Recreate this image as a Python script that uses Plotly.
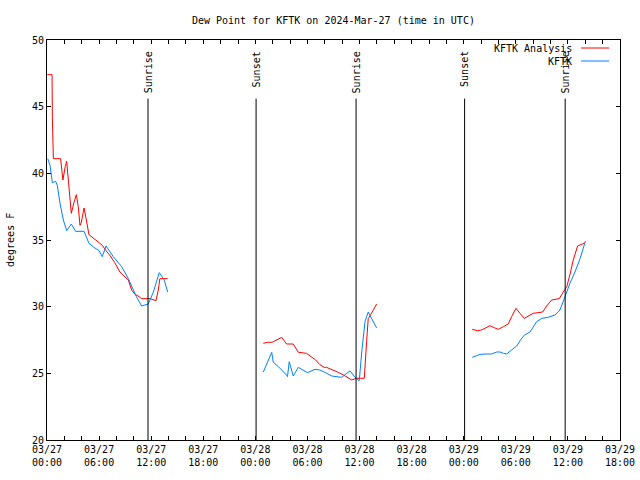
import plotly.graph_objects as go

# ---------------- data ----------------
analysis_times = [
    "2024-03-27 00:02", "2024-03-27 00:35", "2024-03-27 00:37", "2024-03-27 00:44", "2024-03-27 01:34",
    "2024-03-27 01:50", "2024-03-27 02:06", "2024-03-27 02:16", "2024-03-27 02:25", "2024-03-27 02:39",
    "2024-03-27 02:48", "2024-03-27 03:06", "2024-03-27 03:23", "2024-03-27 03:36", "2024-03-27 03:48",
    "2024-03-27 03:57", "2024-03-27 04:16", "2024-03-27 04:27", "2024-03-27 04:39", "2024-03-27 04:50",
    "2024-03-27 06:00", "2024-03-27 06:22", "2024-03-27 06:48", "2024-03-27 07:18", "2024-03-27 07:48",
    "2024-03-27 08:24", "2024-03-27 08:52", "2024-03-27 09:22", "2024-03-27 09:45", "2024-03-27 10:06",
    "2024-03-27 10:36", "2024-03-27 10:54", "2024-03-27 11:52", "2024-03-27 12:33", "2024-03-27 12:49",
    "2024-03-27 13:00", "2024-03-27 13:54",
    None,
    "2024-03-28 00:55", "2024-03-28 01:22", "2024-03-28 01:57", "2024-03-28 02:27", "2024-03-28 03:02",
    "2024-03-28 03:36", "2024-03-28 04:22", "2024-03-28 04:57", "2024-03-28 05:54", "2024-03-28 06:18",
    "2024-03-28 06:52", "2024-03-28 07:26", "2024-03-28 07:56", "2024-03-28 08:12", "2024-03-28 08:58",
    "2024-03-28 09:33", "2024-03-28 10:08", "2024-03-28 10:42", "2024-03-28 11:06", "2024-03-28 11:40",
    "2024-03-28 12:33", "2024-03-28 12:49", "2024-03-28 13:00", "2024-03-28 13:17", "2024-03-28 13:58",
    None,
    "2024-03-29 00:59", "2024-03-29 01:34", "2024-03-29 02:04", "2024-03-29 02:31", "2024-03-29 03:01",
    "2024-03-29 03:31", "2024-03-29 03:59", "2024-03-29 04:34", "2024-03-29 05:08", "2024-03-29 05:31",
    "2024-03-29 06:01", "2024-03-29 06:29", "2024-03-29 06:59", "2024-03-29 07:38", "2024-03-29 08:00",
    "2024-03-29 09:06", "2024-03-29 09:33", "2024-03-29 10:08", "2024-03-29 11:00", "2024-03-29 11:28",
    "2024-03-29 11:52", "2024-03-29 12:14", "2024-03-29 12:37", "2024-03-29 13:07", "2024-03-29 13:35",
    "2024-03-29 13:51", "2024-03-29 14:05",
]
analysis_values = [
    47.4, 47.4, 44.2, 41.1, 41.1,
    39.5, 40.5, 40.9, 39.8, 38.1,
    37.0, 37.8, 38.4, 37.5, 36.1,
    36.3, 37.4, 36.8, 35.9, 35.4,
    34.8, 34.6, 34.2, 33.8, 33.3,
    32.6, 32.3, 32.0, 31.25, 30.95,
    30.75, 30.6, 30.6, 30.45, 31.25,
    32.1, 32.1,
    None,
    27.25, 27.33, 27.33, 27.5, 27.7,
    27.2, 27.2, 26.58, 26.5, 26.3,
    26.05, 25.65, 25.45, 25.45, 25.25,
    25.07, 24.88, 24.63, 24.5, 24.63,
    24.63, 27.4, 29.1, 29.4, 30.2,
    None,
    28.3, 28.2, 28.25, 28.42, 28.57,
    28.42, 28.3, 28.5, 28.7, 29.25,
    29.87, 29.5, 29.12, 29.37, 29.5,
    29.6, 30.05, 30.5, 30.6, 31.1,
    31.5, 32.4, 33.5, 34.55, 34.7,
    34.75, 34.9,
]

obs_times = [
    "2024-03-27 00:05", "2024-03-27 00:21", "2024-03-27 00:37", "2024-03-27 01:00", "2024-03-27 01:11",
    "2024-03-27 01:30", "2024-03-27 01:53", "2024-03-27 02:16", "2024-03-27 02:48", "2024-03-27 03:18",
    "2024-03-27 04:16", "2024-03-27 04:50", "2024-03-27 05:24", "2024-03-27 06:00", "2024-03-27 06:22",
    "2024-03-27 06:48", "2024-03-27 07:38", "2024-03-27 08:36", "2024-03-27 09:22", "2024-03-27 09:56",
    "2024-03-27 10:18", "2024-03-27 10:54", "2024-03-27 11:40", "2024-03-27 11:52", "2024-03-27 12:15",
    "2024-03-27 12:56", "2024-03-27 13:29", "2024-03-27 13:54",
    None,
    "2024-03-28 00:55", "2024-03-28 01:24", "2024-03-28 01:53", "2024-03-28 02:04", "2024-03-28 02:39",
    "2024-03-28 03:36", "2024-03-28 03:42", "2024-03-28 03:54", "2024-03-28 04:22", "2024-03-28 04:57",
    "2024-03-28 05:31", "2024-03-28 06:00", "2024-03-28 06:52", "2024-03-28 07:26", "2024-03-28 07:56",
    "2024-03-28 08:48", "2024-03-28 09:56", "2024-03-28 10:18", "2024-03-28 10:54", "2024-03-28 11:29",
    "2024-03-28 11:58", "2024-03-28 12:15", "2024-03-28 12:38", "2024-03-28 13:00", "2024-03-28 13:30",
    "2024-03-28 13:58",
    None,
    "2024-03-29 00:59", "2024-03-29 01:30", "2024-03-29 01:52", "2024-03-29 02:27", "2024-03-29 03:12",
    "2024-03-29 03:48", "2024-03-29 04:11", "2024-03-29 04:34", "2024-03-29 04:57", "2024-03-29 05:31",
    "2024-03-29 06:06", "2024-03-29 06:36", "2024-03-29 06:59", "2024-03-29 07:38", "2024-03-29 08:24",
    "2024-03-29 08:59", "2024-03-29 09:42", "2024-03-29 10:30", "2024-03-29 11:05", "2024-03-29 11:40",
    "2024-03-29 12:14", "2024-03-29 12:49", "2024-03-29 13:24", "2024-03-29 13:58",
]
obs_values = [
    41.1, 40.6, 39.3, 39.4, 39.1,
    37.75, 36.5, 35.7, 36.2, 35.65,
    35.65, 34.75, 34.45, 34.2, 33.75,
    34.55, 33.75, 33.0, 32.1, 31.25,
    30.75, 30.05, 30.2, 30.5, 31.1,
    32.55, 32.05, 31.1,
    None,
    25.1, 25.87, 26.57, 25.83, 25.5,
    24.87, 24.75, 25.87, 24.8, 25.45,
    25.25, 25.05, 25.3, 25.25, 25.1,
    24.8, 24.7, 24.88, 25.18, 24.7,
    24.45, 26.6, 28.9, 29.6, 29.0,
    28.4,
    None,
    26.2, 26.3, 26.42, 26.45, 26.45,
    26.6, 26.6, 26.5, 26.45, 26.75,
    27.05, 27.55, 27.87, 28.1, 28.87,
    29.12, 29.2, 29.37, 29.75, 30.75,
    31.75, 32.6, 33.6, 34.8,
]

sun_times = ["2024-03-27 11:38", "2024-03-28 00:05", "2024-03-28 11:36",
             "2024-03-29 00:06", "2024-03-29 11:41"]
sun_labels = ["Sunrise", "Sunset", "Sunrise", "Sunset", "Sunrise"]

tick_times = ["2024-03-27 %02d:00" % h for h in range(0, 24, 2)] + \
             ["2024-03-28 %02d:00" % h for h in range(0, 24, 2)] + \
             ["2024-03-29 %02d:00" % h for h in range(0, 19, 2)]
tick_texts = []
for t in tick_times:
    d, hm = t.split(" ")
    hh = int(hm[:2])
    if hh % 6 == 0:
        tick_texts.append(d[5:7] + "/" + d[8:10] + "<br>" + hm)
    else:
        tick_texts.append("")

series_names = ["KFTK Analysis", "KFTK"]
series_colors = ["#ff0000", "#0080ff"]

# ---------------- figure ----------------
FONT = "DejaVu Sans Mono"
fig = go.Figure()
fig.add_trace(go.Scatter(x=analysis_times, y=analysis_values, mode="lines",
                         line=dict(color=series_colors[0], width=1),
                         name=series_names[0], connectgaps=False))
fig.add_trace(go.Scatter(x=obs_times, y=obs_values, mode="lines",
                         line=dict(color=series_colors[1], width=1),
                         name=series_names[1], connectgaps=False))

for t, lab in zip(sun_times, sun_labels):
    fig.add_shape(type="line", xref="x", yref="y", x0=t, x1=t, y0=20, y1=45.6,
                  line=dict(color="black", width=1))
    fig.add_annotation(x=t, y=49.3, xref="x", yref="y", text=lab, textangle=-90,
                       showarrow=False, xanchor="center", yanchor="top",
                       font=dict(family=FONT, size=10, color="black"))

# manual gnuplot-style legend (sample line to the right of text)
leg_y = [0.98, 0.9475]
for name, col, yy in zip(series_names, series_colors, leg_y):
    fig.add_annotation(x=0.9197, y=yy, xref="paper", yref="paper", text=name,
                       showarrow=False, xanchor="right", yanchor="middle",
                       font=dict(family=FONT, size=10, color="black"))
    fig.add_shape(type="line", xref="paper", yref="paper", x0=0.932, x1=0.981,
                  y0=yy, y1=yy, line=dict(color=col, width=1))

# y axis title
fig.add_annotation(x=-0.0646, y=0.5, xref="paper", yref="paper", text="degrees F",
                   textangle=-90, showarrow=False, xanchor="center", yanchor="middle",
                   font=dict(family=FONT, size=10, color="black"))

fig.update_layout(
    width=640, height=480,
    margin=dict(l=47, r=20, t=40, b=40, autoexpand=False),
    paper_bgcolor="white", plot_bgcolor="white",
    showlegend=False,
    font=dict(family=FONT, size=10, color="black"),
    title=dict(text="Dew Point for KFTK on 2024-Mar-27 (time in UTC)",
               x=0.521, xanchor="center", y=0.9583, yanchor="middle",
               font=dict(family=FONT, size=10, color="black")),
)
fig.update_xaxes(type="date", range=["2024-03-27 00:00", "2024-03-29 18:00"],
                 tickmode="array", tickvals=tick_times, ticktext=tick_texts,
                 ticks="inside", ticklen=4, tickcolor="black", automargin=False,
                 showline=True, linecolor="black", linewidth=1, mirror="allticks",
                 showgrid=False, zeroline=False)
fig.update_yaxes(range=[20, 50], dtick=5, tick0=20, automargin=False,
                 ticks="inside", ticklen=4, tickcolor="black",
                 showline=True, linecolor="black", linewidth=1, mirror="allticks",
                 showgrid=False, zeroline=False)

fig.write_html("out.html", config={"displayModeBar": False},
               post_script="document.body.style.margin='0';document.body.style.overflow='hidden';")
